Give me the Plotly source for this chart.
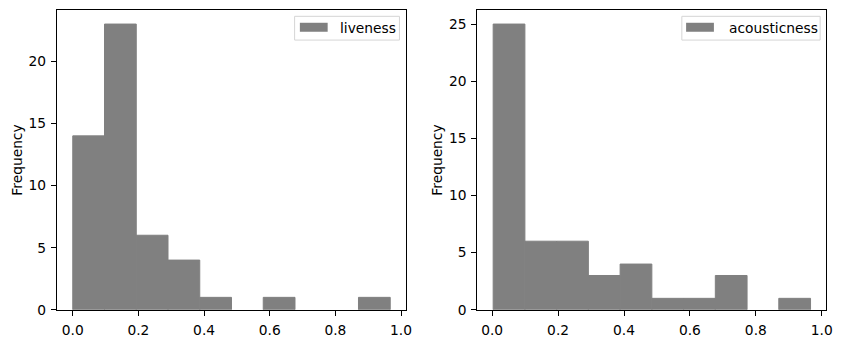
import plotly.graph_objects as go

# ---- data ----
liveness_counts = [14, 23, 6, 4, 1, 0, 1, 0, 0, 1]
liveness_min, liveness_max = 0.0, 0.967
acoustic_counts = [25, 6, 6, 3, 4, 1, 1, 3, 0, 1]
acoustic_min, acoustic_max = 0.003, 0.966
series_names = ["liveness", "acousticness"]
x_ticks = [0.0, 0.2, 0.4, 0.6, 0.8, 1.0]
y_ticks_left = [0, 5, 10, 15, 20]
y_ticks_right = [0, 5, 10, 15, 20, 25]

W, H = 847, 351
FONT = "DejaVu Sans"
FS = 13.8
GRAY = "#808080"


def px(x):
    return x / W


def py(y):
    return 1 - y / H


def bins(lo, hi, counts):
    n = len(counts)
    w = (hi - lo) / n
    centers = [lo + w * (i + 0.5) for i in range(n)]
    return centers, w


fig = go.Figure()

panels = [
    dict(counts=liveness_counts, lo=liveness_min, hi=liveness_max, name=series_names[0],
         left=57.3, right=409.0, xa="x", ya="y", yticks=y_ticks_left,
         leg=(296.7, 402.3), patch=(302, 330), text_x=340.7, ylab_x=17),
    dict(counts=acoustic_counts, lo=acoustic_min, hi=acoustic_max, name=series_names[1],
         left=480.7, right=832.3, xa="x2", ya="y2", yticks=y_ticks_right,
         leg=(686.7, 826.0), patch=(691, 719), text_x=731.7, ylab_x=440),
]

top, bottom = 10.0, 317.0
shapes = []
annotations = []
for i, p in enumerate(panels):
    centers, w = bins(p["lo"], p["hi"], p["counts"])
    line_w = [1 if c > 0 else 0 for c in p["counts"]]
    fig.add_trace(go.Bar(x=centers, y=p["counts"], width=w,
                         marker=dict(color=GRAY, line=dict(width=line_w, color=GRAY)),
                         xaxis=p["xa"], yaxis=p["ya"], name=p["name"], showlegend=False, hoverinfo="x+y"))
    span = p["hi"] - p["lo"]
    xr = [p["lo"] - 0.05 * span, p["hi"] + 0.05 * span]
    yr = [0, max(p["counts"]) * 1.05]
    suffix = "" if i == 0 else "2"
    common = dict(showline=True, mirror=True, linecolor="black", linewidth=1, ticks="outside",
                  ticklen=5, tickwidth=1, tickcolor="black", showgrid=False, zeroline=False,
                  tickfont=dict(family=FONT, size=FS, color="black"))
    fig.update_layout(**{
        "xaxis" + suffix: dict(domain=[px(p["left"]), px(p["right"])], range=xr, tickvals=x_ticks,
                               ticktext=[f"{t:.1f}" for t in x_ticks], anchor="y" + suffix,
                               ticklabelstandoff=3, **common),
        "yaxis" + suffix: dict(domain=[py(bottom), py(top)], range=yr, tickvals=p["yticks"],
                               anchor="x" + suffix, ticklabelstandoff=2, **common),
    })
    # legend box (manual, matplotlib style)
    l0, l1 = p["leg"]
    shapes.append(dict(type="rect", xref="paper", yref="paper", x0=px(l0), x1=px(l1), y0=py(41), y1=py(16.7),
                       line=dict(color="#d5d5d5", width=1), fillcolor="rgba(255,255,255,0.8)", layer="above"))
    shapes.append(dict(type="rect", xref="paper", yref="paper", x0=px(p["patch"][0]), x1=px(p["patch"][1]),
                       y0=py(32.5), y1=py(23.3), line=dict(width=0), fillcolor=GRAY, layer="above"))
    annotations.append(dict(text=p["name"], xref="paper", yref="paper", x=px(p["text_x"]), y=py(28.5),
                            xanchor="left", yanchor="middle", showarrow=False,
                            font=dict(family=FONT, size=FS, color="black")))
    annotations.append(dict(text="Frequency", xref="paper", yref="paper", x=px(p["ylab_x"]), y=py((top + bottom) / 2),
                            xanchor="center", yanchor="middle", textangle=-90, showarrow=False,
                            font=dict(family=FONT, size=FS, color="black")))

fig.update_layout(width=W, height=H, margin=dict(l=0, r=0, t=0, b=0), paper_bgcolor="white",
                  plot_bgcolor="white", shapes=shapes, annotations=annotations, showlegend=False)

fig.write_html("out.html", config={"displayModeBar": False})
